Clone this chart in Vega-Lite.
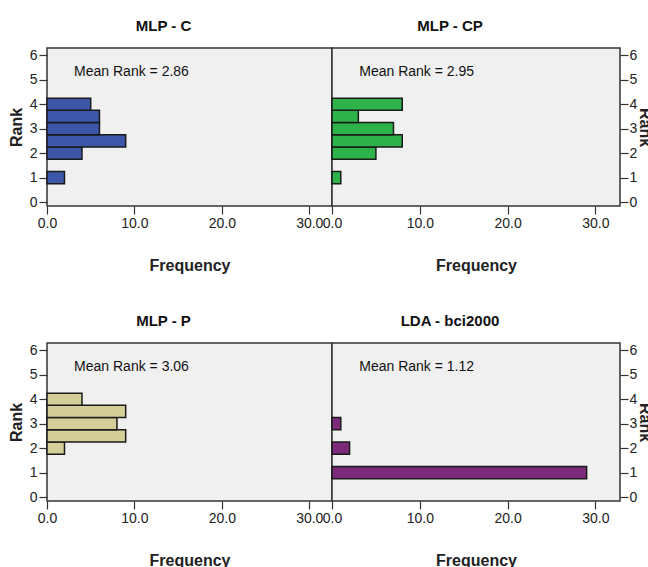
{
  "$schema": "https://vega.github.io/schema/vega-lite/v6.json",
  "padding": {"left": 7, "top": 18, "right": 0, "bottom": 0},
  "background": "white",
  "config": {
    "view": {"stroke": "#333333", "strokeWidth": 1.5, "fill": "#f0f0f0"},
    "axis": {"grid": false, "domain": false, "tickColor": "#333333", "tickSize": 8, "tickWidth": 1.2,
      "labelFont": "Liberation Sans", "labelFontSize": 14, "labelColor": "#222222", "labelOverlap": false, "labelFlush": false,
      "titleFont": "Liberation Sans", "titleFontWeight": "bold", "titleFontSize": 16, "titleColor": "#222222"},
    "title": {"font": "Liberation Sans", "fontSize": 15, "fontWeight": "bold", "color": "#111111", "dx": -26, "offset": 14},
    "concat": {"spacing": 0}
  },
  "datasets": {
    "ranks": [
      {"panel": "C", "lo": 0.75, "hi": 1.25, "freq": 2},
      {"panel": "C", "lo": 1.75, "hi": 2.25, "freq": 4},
      {"panel": "C", "lo": 2.25, "hi": 2.75, "freq": 9},
      {"panel": "C", "lo": 2.75, "hi": 3.25, "freq": 6},
      {"panel": "C", "lo": 3.25, "hi": 3.75, "freq": 6},
      {"panel": "C", "lo": 3.75, "hi": 4.25, "freq": 5},
      {"panel": "CP", "lo": 0.75, "hi": 1.25, "freq": 1},
      {"panel": "CP", "lo": 1.75, "hi": 2.25, "freq": 5},
      {"panel": "CP", "lo": 2.25, "hi": 2.75, "freq": 8},
      {"panel": "CP", "lo": 2.75, "hi": 3.25, "freq": 7},
      {"panel": "CP", "lo": 3.25, "hi": 3.75, "freq": 3},
      {"panel": "CP", "lo": 3.75, "hi": 4.25, "freq": 8},
      {"panel": "P", "lo": 1.75, "hi": 2.25, "freq": 2},
      {"panel": "P", "lo": 2.25, "hi": 2.75, "freq": 9},
      {"panel": "P", "lo": 2.75, "hi": 3.25, "freq": 8},
      {"panel": "P", "lo": 3.25, "hi": 3.75, "freq": 9},
      {"panel": "P", "lo": 3.75, "hi": 4.25, "freq": 4},
      {"panel": "LDA", "lo": 0.75, "hi": 1.25, "freq": 29},
      {"panel": "LDA", "lo": 1.75, "hi": 2.25, "freq": 2},
      {"panel": "LDA", "lo": 2.75, "hi": 3.25, "freq": 1}
    ],
    "means": [
      {"panel": "C", "label": "Mean Rank = 2.86", "mx": 3.1, "my": 5.3},
      {"panel": "CP", "label": "Mean Rank = 2.95", "mx": 3.1, "my": 5.3},
      {"panel": "P", "label": "Mean Rank = 3.06", "mx": 3.1, "my": 5.3},
      {"panel": "LDA", "label": "Mean Rank = 1.12", "mx": 3.1, "my": 5.3}
    ]
  },
  "spacing": 39,
  "vconcat": [
    {
      "bounds": "flush",
      "hconcat": [
        {
          "title": "MLP -  C",
          "width": 285, "height": 158,
          "layer": [
            {
              "data": {"name": "ranks"},
              "transform": [{"filter": "datum.panel == 'C'"}],
              "mark": {"type": "rect", "fill": "#3c56a8", "stroke": "#1a1a1a", "strokeWidth": 1.5},
              "encoding": {
                "x": {"field": "freq", "type": "quantitative", "scale": {"domain": [0, 32.6], "nice": false}, "axis": {"values": [0, 10, 20, 30], "format": ".1f", "title": "Frequency", "titlePadding": 27}},
                "x2": {"datum": 0},
                "y": {"field": "lo", "type": "quantitative", "scale": {"domain": [-0.16, 6.3], "nice": false, "zero": false}, "axis": {"values": [0, 1, 2, 3, 4, 5, 6], "tickCount": 7, "format": "d", "title": "Rank", "orient": "left", "labelPadding": 2, "titlePadding": 5}},
                "y2": {"field": "hi"}
              }
            },
            {
              "data": {"name": "means"},
              "transform": [{"filter": "datum.panel == 'C'"}],
              "mark": {"type": "text", "align": "left", "baseline": "middle", "font": "Liberation Sans", "fontSize": 14, "color": "#111111"},
              "encoding": {
                "x": {"field": "mx", "type": "quantitative", "axis": {"values": [0, 10, 20, 30], "format": ".1f", "title": "Frequency", "titlePadding": 27}},
                "y": {"field": "my", "type": "quantitative", "axis": {"values": [0, 1, 2, 3, 4, 5, 6], "tickCount": 7, "format": "d", "title": "Rank", "orient": "left", "labelPadding": 2, "titlePadding": 5}},
                "text": {"field": "label"}
              }
            }
          ]
        },
        {
          "title": "MLP -  CP",
          "width": 288, "height": 158,
          "layer": [
            {
              "data": {"name": "ranks"},
              "transform": [{"filter": "datum.panel == 'CP'"}],
              "mark": {"type": "rect", "fill": "#2db34a", "stroke": "#1a1a1a", "strokeWidth": 1.5},
              "encoding": {
                "x": {"field": "freq", "type": "quantitative", "scale": {"domain": [0, 32.8], "nice": false}, "axis": {"values": [0, 10, 20, 30], "format": ".1f", "title": "Frequency", "titlePadding": 27}},
                "x2": {"datum": 0},
                "y": {"field": "lo", "type": "quantitative", "scale": {"domain": [-0.16, 6.3], "nice": false, "zero": false}, "axis": {"values": [0, 1, 2, 3, 4, 5, 6], "tickCount": 7, "format": "d", "title": "Rank", "orient": "right", "labelPadding": 1, "titlePadding": 0}},
                "y2": {"field": "hi"}
              }
            },
            {
              "data": {"name": "means"},
              "transform": [{"filter": "datum.panel == 'CP'"}],
              "mark": {"type": "text", "align": "left", "baseline": "middle", "font": "Liberation Sans", "fontSize": 14, "color": "#111111"},
              "encoding": {
                "x": {"field": "mx", "type": "quantitative", "axis": {"values": [0, 10, 20, 30], "format": ".1f", "title": "Frequency", "titlePadding": 27}},
                "y": {"field": "my", "type": "quantitative", "axis": {"values": [0, 1, 2, 3, 4, 5, 6], "tickCount": 7, "format": "d", "title": "Rank", "orient": "right", "labelPadding": 1, "titlePadding": 0}},
                "text": {"field": "label"}
              }
            }
          ]
        }
      ]
    },
    {
      "bounds": "flush",
      "hconcat": [
        {
          "title": "MLP - P",
          "width": 285, "height": 158,
          "layer": [
            {
              "data": {"name": "ranks"},
              "transform": [{"filter": "datum.panel == 'P'"}],
              "mark": {"type": "rect", "fill": "#d4cf99", "stroke": "#1a1a1a", "strokeWidth": 1.5},
              "encoding": {
                "x": {"field": "freq", "type": "quantitative", "scale": {"domain": [0, 32.6], "nice": false}, "axis": {"values": [0, 10, 20, 30], "format": ".1f", "title": "Frequency", "titlePadding": 27}},
                "x2": {"datum": 0},
                "y": {"field": "lo", "type": "quantitative", "scale": {"domain": [-0.16, 6.3], "nice": false, "zero": false}, "axis": {"values": [0, 1, 2, 3, 4, 5, 6], "tickCount": 7, "format": "d", "title": "Rank", "orient": "left", "labelPadding": 2, "titlePadding": 5}},
                "y2": {"field": "hi"}
              }
            },
            {
              "data": {"name": "means"},
              "transform": [{"filter": "datum.panel == 'P'"}],
              "mark": {"type": "text", "align": "left", "baseline": "middle", "font": "Liberation Sans", "fontSize": 14, "color": "#111111"},
              "encoding": {
                "x": {"field": "mx", "type": "quantitative", "axis": {"values": [0, 10, 20, 30], "format": ".1f", "title": "Frequency", "titlePadding": 27}},
                "y": {"field": "my", "type": "quantitative", "axis": {"values": [0, 1, 2, 3, 4, 5, 6], "tickCount": 7, "format": "d", "title": "Rank", "orient": "left", "labelPadding": 2, "titlePadding": 5}},
                "text": {"field": "label"}
              }
            }
          ]
        },
        {
          "title": "LDA -  bci2000",
          "width": 288, "height": 158,
          "layer": [
            {
              "data": {"name": "ranks"},
              "transform": [{"filter": "datum.panel == 'LDA'"}],
              "mark": {"type": "rect", "fill": "#7d2a7b", "stroke": "#1a1a1a", "strokeWidth": 1.5},
              "encoding": {
                "x": {"field": "freq", "type": "quantitative", "scale": {"domain": [0, 32.8], "nice": false}, "axis": {"values": [0, 10, 20, 30], "format": ".1f", "title": "Frequency", "titlePadding": 27}},
                "x2": {"datum": 0},
                "y": {"field": "lo", "type": "quantitative", "scale": {"domain": [-0.16, 6.3], "nice": false, "zero": false}, "axis": {"values": [0, 1, 2, 3, 4, 5, 6], "tickCount": 7, "format": "d", "title": "Rank", "orient": "right", "labelPadding": 1, "titlePadding": 0}},
                "y2": {"field": "hi"}
              }
            },
            {
              "data": {"name": "means"},
              "transform": [{"filter": "datum.panel == 'LDA'"}],
              "mark": {"type": "text", "align": "left", "baseline": "middle", "font": "Liberation Sans", "fontSize": 14, "color": "#111111"},
              "encoding": {
                "x": {"field": "mx", "type": "quantitative", "axis": {"values": [0, 10, 20, 30], "format": ".1f", "title": "Frequency", "titlePadding": 27}},
                "y": {"field": "my", "type": "quantitative", "axis": {"values": [0, 1, 2, 3, 4, 5, 6], "tickCount": 7, "format": "d", "title": "Rank", "orient": "right", "labelPadding": 1, "titlePadding": 0}},
                "text": {"field": "label"}
              }
            }
          ]
        }
      ]
    }
  ]
}
